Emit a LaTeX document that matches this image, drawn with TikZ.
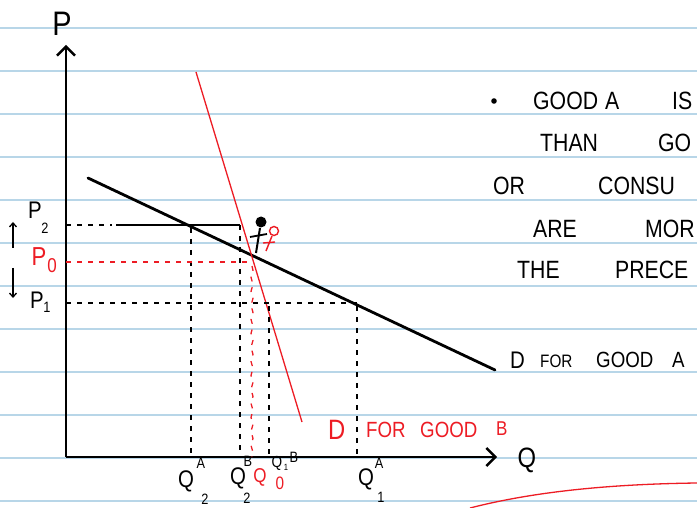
\documentclass[tikz,border=0pt]{standalone}
\usepackage{fontspec}
\setmainfont{Liberation Sans}
\newfontfamily\handfont[FakeStretch=0.85]{Liberation Sans}
\usetikzlibrary{arrows.meta,decorations.pathmorphing}
\definecolor{ruleblue}{RGB}{184,214,232}
\definecolor{penred}{RGB}{237,28,36}
\begin{document}
\begin{tikzpicture}[x=1pt,y=-1pt,
  ruling/.style={draw=ruleblue,line width=1.2pt},
  axisline/.style={line width=2.6pt,-{Straight Barb[length=9pt,width=18pt,line width=2.4pt]}},
  demandA/.style={line width=2.8pt,line cap=round},
  demandB/.style={draw=penred,line width=1.3pt},
  blkdash/.style={line width=1.3pt,dash pattern=on 5pt off 6pt},
  reddash/.style={draw=penred,line width=1.3pt,dash pattern=on 5pt off 6pt},
  hand/.style={font=\handfont\fontsize{25}{25}\selectfont,inner sep=0pt,anchor=west},
  lab/.style={font=\handfont\fontsize{24}{24}\selectfont,inner sep=0pt},
  smalllab/.style={font=\handfont\fontsize{15}{15}\selectfont,inner sep=0pt},
  redtext/.style={text=penred},
  smallarrow/.style={line width=1.3pt,-{Straight Barb[length=4pt,width=7pt]}}
]
\useasboundingbox (0,0) rectangle (697,508);
\clip (0,0) rectangle (697,508);
\fill[white] (0,0) rectangle (697,508);
% ruled lines
\foreach \yy in {28,71,...,501} \draw[ruling] (0,\yy) -- (697,\yy);

% axes
\coordinate (O) at (66,457);
\coordinate (Ptop) at (66,45);
\coordinate (Qend) at (497,457);
\draw[axisline] (O) -- (Ptop);
\draw[axisline] (O) -- (Qend);
\node[lab,font=\handfont\fontsize{34}{34}\selectfont] (Plab) at (62,24) {P};
\node[lab,font=\handfont\fontsize{28}{28}\selectfont] (Qlab) at (527,460) {Q};

% demand curves
\coordinate (A1) at (88,178);
\coordinate (A2) at (495,370);
\draw[demandA] (A1) -- (A2);
\coordinate (B1) at (196,72);
\coordinate (B2) at (302,422);
\draw[demandB] (B1) -- (B2);

% key points
\coordinate (P2y) at (66,225);
\coordinate (P0y) at (66,262);
\coordinate (P1y) at (66,303);
\coordinate (P2m) at (112,225);
\coordinate (P2s) at (116,225);
\coordinate (P2e) at (240,225);
\coordinate (P0e) at (250,262);
\coordinate (X2A) at (191,228);
\coordinate (X2Ab) at (191,457);
\coordinate (X2Bb) at (240,457);
\coordinate (X0t) at (252,266);
\coordinate (X0b) at (252,457);
\coordinate (X1Bt) at (269,306);
\coordinate (X1Bb) at (269,457);
\coordinate (P1e) at (357,303);
\coordinate (X1At) at (357,306);
\coordinate (X1Ab) at (357,457);

\draw[blkdash] (P2y) -- (P2m);
\draw[line width=1.3pt] (P2s) -- (P2e);
\draw[blkdash] (P2e) -- (X2Bb);
\draw[blkdash] (X2A) -- (X2Ab);
\draw[reddash] (P0y) -- (P0e);
\draw[reddash,decorate,decoration={snake,amplitude=1pt,segment length=14pt}] (X0t) -- (X0b);
\draw[blkdash] (P1y) -- (P1e);
\draw[blkdash] (X1Bt) -- (X1Bb);
\draw[blkdash] (X1At) -- (X1Ab);

% price labels
\node[lab] (P2l) at (35,210) {P};
\node[smalllab] (P2s2) at (45,228) {2};
\node[lab,redtext,font=\handfont\fontsize{26}{26}\selectfont] (P0l) at (39,257) {P};
\node[smalllab,redtext,font=\handfont\fontsize{20}{20}\selectfont] (P0s) at (52,266) {0};
\node[lab] (P1l) at (37,300) {P};
\node[smalllab] (P1s) at (47,307) {1};
\coordinate (upa) at (13,248);
\coordinate (upb) at (13,222);
\coordinate (dna) at (13,268);
\coordinate (dnb) at (13,298);
\draw[smallarrow] (upa) -- (upb);
\draw[smallarrow] (dna) -- (dnb);

% quantity labels
\node[lab] (Q2A) at (186,481) {Q};
\node[smalllab] (Q2Asup) at (201,463) {A};
\node[smalllab] (Q2Asub) at (205,499) {2};
\node[lab] (Q2B) at (238,478) {Q};
\node[smalllab] (Q2Bsup) at (248,461) {B};
\node[smalllab] (Q2Bsub) at (247,498) {2};
\node[lab,redtext,font=\handfont\fontsize{20}{20}\selectfont] (Q0) at (260,477) {Q};
\node[smalllab,redtext,font=\handfont\fontsize{18}{18}\selectfont] (Q0s) at (280,483) {0};
\node[smalllab,font=\handfont\fontsize{16}{16}\selectfont] (Q1B) at (277,463) {Q};
\node[smalllab,font=\handfont\fontsize{9}{9}\selectfont] (Q1Bsub) at (286,467) {1};
\node[smalllab] (Q1Bsup) at (294,457) {B};
\node[lab] (Q1A) at (366,479) {Q};
\node[smalllab] (Q1Asup) at (379,463) {A};
\node[smalllab] (Q1Asub) at (381,497) {1};

% stick figure
\fill (261,222) circle (5.5pt);
\coordinate (nk) at (260,228);
\coordinate (ft) at (256,253);
\coordinate (al) at (250,237);
\coordinate (ar) at (267,234);
\draw[line width=2pt] (nk) -- (ft);
\draw[line width=1.8pt] (al) -- (ar);
\draw[penred,line width=1.4pt] (274,231) circle (4.5pt);
\coordinate (fs1) at (272,236);
\coordinate (fs2) at (266,251);
\coordinate (fc1) at (263,243);
\coordinate (fc2) at (275,242);
\draw[penred,line width=1.4pt] (fs1) -- (fs2);
\draw[penred,line width=1.4pt] (fc1) -- (fc2);

% curve labels
\node[hand,font=\handfont\fontsize{24}{24}\selectfont] (DA) at (510,360) {D};
\node[hand,font=\handfont\fontsize{18}{18}\selectfont] (forA) at (540,361) {FOR};
\node[hand,font=\handfont\fontsize{22}{22}\selectfont] (goodA) at (596,360) {GOOD};
\node[hand,font=\handfont\fontsize{22}{22}\selectfont] (AA) at (672,360) {A};
\node[hand,redtext,font=\handfont\fontsize{28}{28}\selectfont] (DB) at (328,430) {D};
\node[hand,redtext,font=\handfont\fontsize{22}{22}\selectfont] (forB) at (366,430) {FOR};
\node[hand,redtext,font=\handfont\fontsize{22}{22}\selectfont] (goodB) at (420,430) {GOOD};
\node[hand,redtext,font=\handfont\fontsize{20}{20}\selectfont] (BB) at (496,429) {B};

% notes
\fill (494,101) circle (2.8pt);
\node[hand] (t1a) at (533,101) {GOOD};
\node[hand] (t1b) at (605,101) {A};
\node[hand] (t1c) at (672,101) {IS};
\node[hand] (t2a) at (540,143) {THAN};
\node[hand] (t2b) at (658,143) {GO};
\node[hand] (t3a) at (493,186) {OR};
\node[hand] (t3b) at (598,186) {CONSU};
\node[hand] (t4a) at (533,229) {ARE};
\node[hand] (t4b) at (645,229) {MOR};
\node[hand] (t5a) at (517,270) {THE};
\node[hand] (t5b) at (615,270) {PRECE};

% bottom red stroke
\coordinate (rc1) at (470,508);
\coordinate (rc2) at (697,483);
\draw[penred,line width=1.3pt] (rc1) .. controls (540,490) and (620,484) .. (rc2);
\end{tikzpicture}
\end{document}
